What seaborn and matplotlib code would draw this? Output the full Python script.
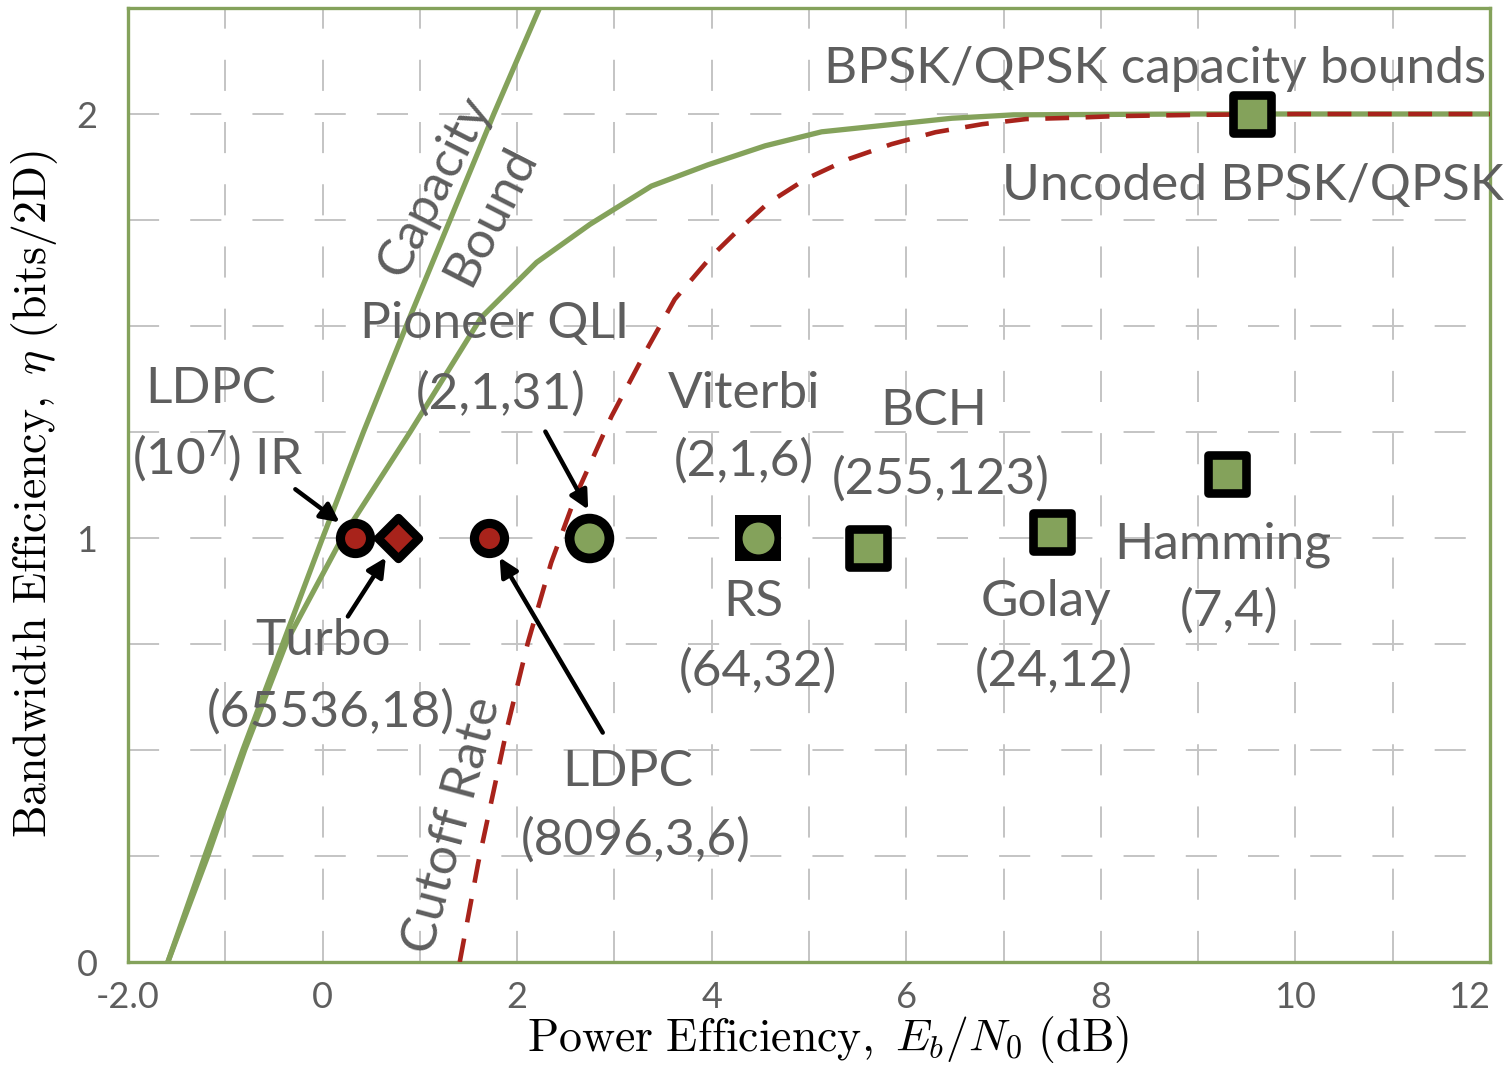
import numpy as np
import pandas as pd
import matplotlib
matplotlib.use("Agg")
import matplotlib.pyplot as plt
import seaborn as sns
from matplotlib.ticker import MultipleLocator, FixedLocator

# ---------------- data ----------------
shannon_ebn0 = [-1.59, -1.21, -0.82, -0.41, 0.0, 0.42, 0.86, 1.31, 1.76, 2.23]
shannon_eta = [0.0, 0.25, 0.5, 0.75, 1.0, 1.25, 1.5, 1.75, 2.0, 2.25]

bpsk_ebn0 = [-1.59, -1.18, -0.80, -0.36, 0.20, 0.90, 1.63, 2.20, 2.75, 3.38,
             3.96, 4.55, 5.13, 6.47, 7.10, 9.0, 12.0]
bpsk_eta = [0.0, 0.25, 0.5, 0.76, 1.0, 1.25, 1.52, 1.65, 1.74, 1.83,
            1.88, 1.925, 1.958, 1.99, 1.998, 2.0, 2.0]

cutoff_ebn0 = [1.41, 1.60, 1.90, 2.11, 2.35, 2.60, 2.97, 3.35, 3.62, 4.00, 4.24,
               4.58, 4.97, 5.41, 5.85, 6.30, 6.78, 7.23, 7.70, 8.16, 9.0, 10.0, 12.0]
cutoff_eta = [0.0, 0.234, 0.555, 0.753, 0.942, 1.098, 1.287, 1.452, 1.563, 1.665, 1.719,
              1.79, 1.847, 1.894, 1.929, 1.957, 1.976, 1.988, 1.991, 1.995, 1.998, 2.0, 2.0]

red_circle_names = ["LDPC (10^7) IR", "LDPC (8096,3,6)"]
red_circle_x = [0.33, 1.71]
red_circle_y = [1.0, 1.0]

turbo_x = [0.78]
turbo_y = [1.0]

pioneer_x = [2.74]
pioneer_y = [1.0]

viterbi_rs_x = [4.48]
viterbi_rs_y = [1.0]

square_names = ["BCH (255,123)", "Golay (24,12)", "Hamming (7,4)", "Uncoded BPSK/QPSK"]
square_x = [5.61, 7.50, 9.30, 9.55]
square_y = [0.976, 1.015, 1.15, 2.0]

x_ticks = [-2, 0, 2, 4, 6, 8, 10, 12]
x_tick_labels = ["-2.0", "0", "2", "4", "6", "8", "10", "12"]
y_ticks = [0, 1, 2]
y_tick_labels = ["0", "1", "2"]

# ---------------- style ----------------
GREEN = "#84a25b"
RED = "#a8231b"
GRAY = "#5e5e5e"
GRID = "#c4c4c4"

sns.set_theme(style="white")
plt.rcParams["font.family"] = ["Lato", "DejaVu Sans"]
plt.rcParams["mathtext.fontset"] = "custom"
plt.rcParams["mathtext.rm"] = "Lato"
plt.rcParams["mathtext.it"] = "Lato:italic"
plt.rcParams["mathtext.bf"] = "Lato:bold"

fig = plt.figure(figsize=(15.06, 10.68), dpi=100)
ax = fig.add_axes([128 / 1506, 1 - 962 / 1068, (1490 - 128) / 1506, (962 - 8) / 1068])

# grid
ax.set_xlim(-2, 12)
ax.set_ylim(0, 2.25)
ax.xaxis.set_major_locator(FixedLocator(x_ticks))
ax.xaxis.set_minor_locator(MultipleLocator(1))
ax.yaxis.set_major_locator(FixedLocator(y_ticks))
ax.yaxis.set_minor_locator(MultipleLocator(0.25))
ax.grid(True, which="both", color=GRID, linewidth=1.4, linestyle=(0, (16, 16)))
ax.set_axisbelow(True)

# curves
df_sh = pd.DataFrame({"x": shannon_ebn0, "y": shannon_eta})
df_bp = pd.DataFrame({"x": bpsk_ebn0, "y": bpsk_eta})
df_co = pd.DataFrame({"x": cutoff_ebn0, "y": cutoff_eta})
sns.lineplot(data=df_sh, x="x", y="y", ax=ax, color=GREEN, linewidth=3.8,
             sort=False, estimator=None, zorder=3)
sns.lineplot(data=df_bp, x="x", y="y", ax=ax, color=GREEN, linewidth=3.8,
             sort=False, estimator=None, zorder=3)
sns.lineplot(data=df_co, x="x", y="y", ax=ax, color=RED, linewidth=3.3,
             sort=False, estimator=None, zorder=4)
ax.lines[-1].set_dashes((5.2, 3.6))

# markers
sns.scatterplot(x=red_circle_x, y=red_circle_y, ax=ax, marker="o", s=470,
                color=RED, edgecolor="black", linewidth=6.6, zorder=6)
sns.scatterplot(x=turbo_x, y=turbo_y, ax=ax, marker="D", s=430,
                color=RED, edgecolor="black", linewidth=6.2, zorder=6)
sns.scatterplot(x=pioneer_x, y=pioneer_y, ax=ax, marker="o", s=820,
                color=GREEN, edgecolor="black", linewidth=7.0, zorder=6)
sns.scatterplot(x=viterbi_rs_x, y=viterbi_rs_y, ax=ax, marker="s", s=1060,
                color="black", edgecolor="black", linewidth=0, zorder=6)
sns.scatterplot(x=viterbi_rs_x, y=viterbi_rs_y, ax=ax, marker="o", s=700,
                color=GREEN, edgecolor="black", linewidth=3.5, zorder=7)
sns.scatterplot(x=square_x, y=square_y, ax=ax, marker="s", s=760,
                color=GREEN, edgecolor="black", linewidth=6.2, zorder=6)

# spines / ticks
for sp in ax.spines.values():
    sp.set_color(GREEN)
    sp.set_linewidth(2.4)
ax.set_xticks(x_ticks)
ax.set_xticklabels(x_tick_labels)
ax.set_yticks(y_ticks)
ax.set_yticklabels(y_tick_labels)
ax.tick_params(axis="both", which="both", length=0, labelsize=26, labelcolor=GRAY)
ax.tick_params(axis="x", pad=14)
ax.tick_params(axis="y", pad=22)
ax.get_xticklabels()[-1].set_horizontalalignment("right")
ax.get_xticklabels()[-1].set_x(12.15)

ax.set_xlabel(r"$\mathrm{Power\ Efficiency,}\ E_b/N_0\ \mathrm{(dB)}$",
              fontsize=33, color="black", math_fontfamily="cm")
ax.set_ylabel(r"$\mathrm{Bandwidth\ Efficiency,}\ \eta\ \mathrm{(bits/2D)}$",
              fontsize=33, color="black", math_fontfamily="cm")
ax.xaxis.set_label_coords(0.514, -0.055)
ax.yaxis.set_label_coords(-0.050, 0.49)

# text annotations
FS = 37
def lab(x, y, s, **kw):
    ax.text(x, y, s, fontsize=kw.pop("fontsize", FS), color=GRAY, ha="center",
            va="center", zorder=5, **kw)

lab(8.56, 2.106, "BPSK/QPSK capacity bounds")
lab(9.56, 1.83, "Uncoded BPSK/QPSK")
lab(1.15, 1.83, "Capacity", rotation=63)
lab(1.73, 1.76, "Bound", rotation=63)
lab(1.77, 1.504, "Pioneer QLI")
lab(1.83, 1.339, "(2,1,31)")
lab(4.33, 1.339, "Viterbi")
lab(4.33, 1.18, "(2,1,6)")
lab(6.28, 1.299, "BCH")
lab(6.35, 1.138, "(255,123)")
lab(-1.15, 1.351, "LDPC")
ax.text(-1.08, 1.192, r"(10$^{7}$) IR", fontsize=FS, color=GRAY, ha="center",
        va="center", zorder=5, math_fontfamily="custom")
lab(0.0, 0.757, "Turbo")
lab(0.08, 0.59, "(65536,18)")
lab(4.43, 0.85, "RS")
lab(4.48, 0.685, "(64,32)")
lab(7.44, 0.85, "Golay")
lab(7.52, 0.685, "(24,12)")
lab(9.25, 0.985, "Hamming")
lab(9.32, 0.826, "(7,4)")
lab(3.14, 0.449, "LDPC")
lab(3.22, 0.288, "(8096,3,6)")
lab(1.34, 0.323, "Cutoff Rate", rotation=75)

# arrows
arrow_kw = dict(arrowstyle="-|>", color="black", lw=3.2, mutation_scale=28,
                shrinkA=0, shrinkB=0)
for (tx, ty), (hx, hy) in [((-0.28, 1.115), (0.175, 1.037)),
                           ((0.26, 0.815), (0.65, 0.954)),
                           ((2.29, 1.251), (2.73, 1.067)),
                           ((2.88, 0.541), (1.82, 0.954))]:
    ax.annotate("", xy=(hx, hy), xytext=(tx, ty), arrowprops=arrow_kw, zorder=8)

fig.savefig("out.png", dpi=100)
